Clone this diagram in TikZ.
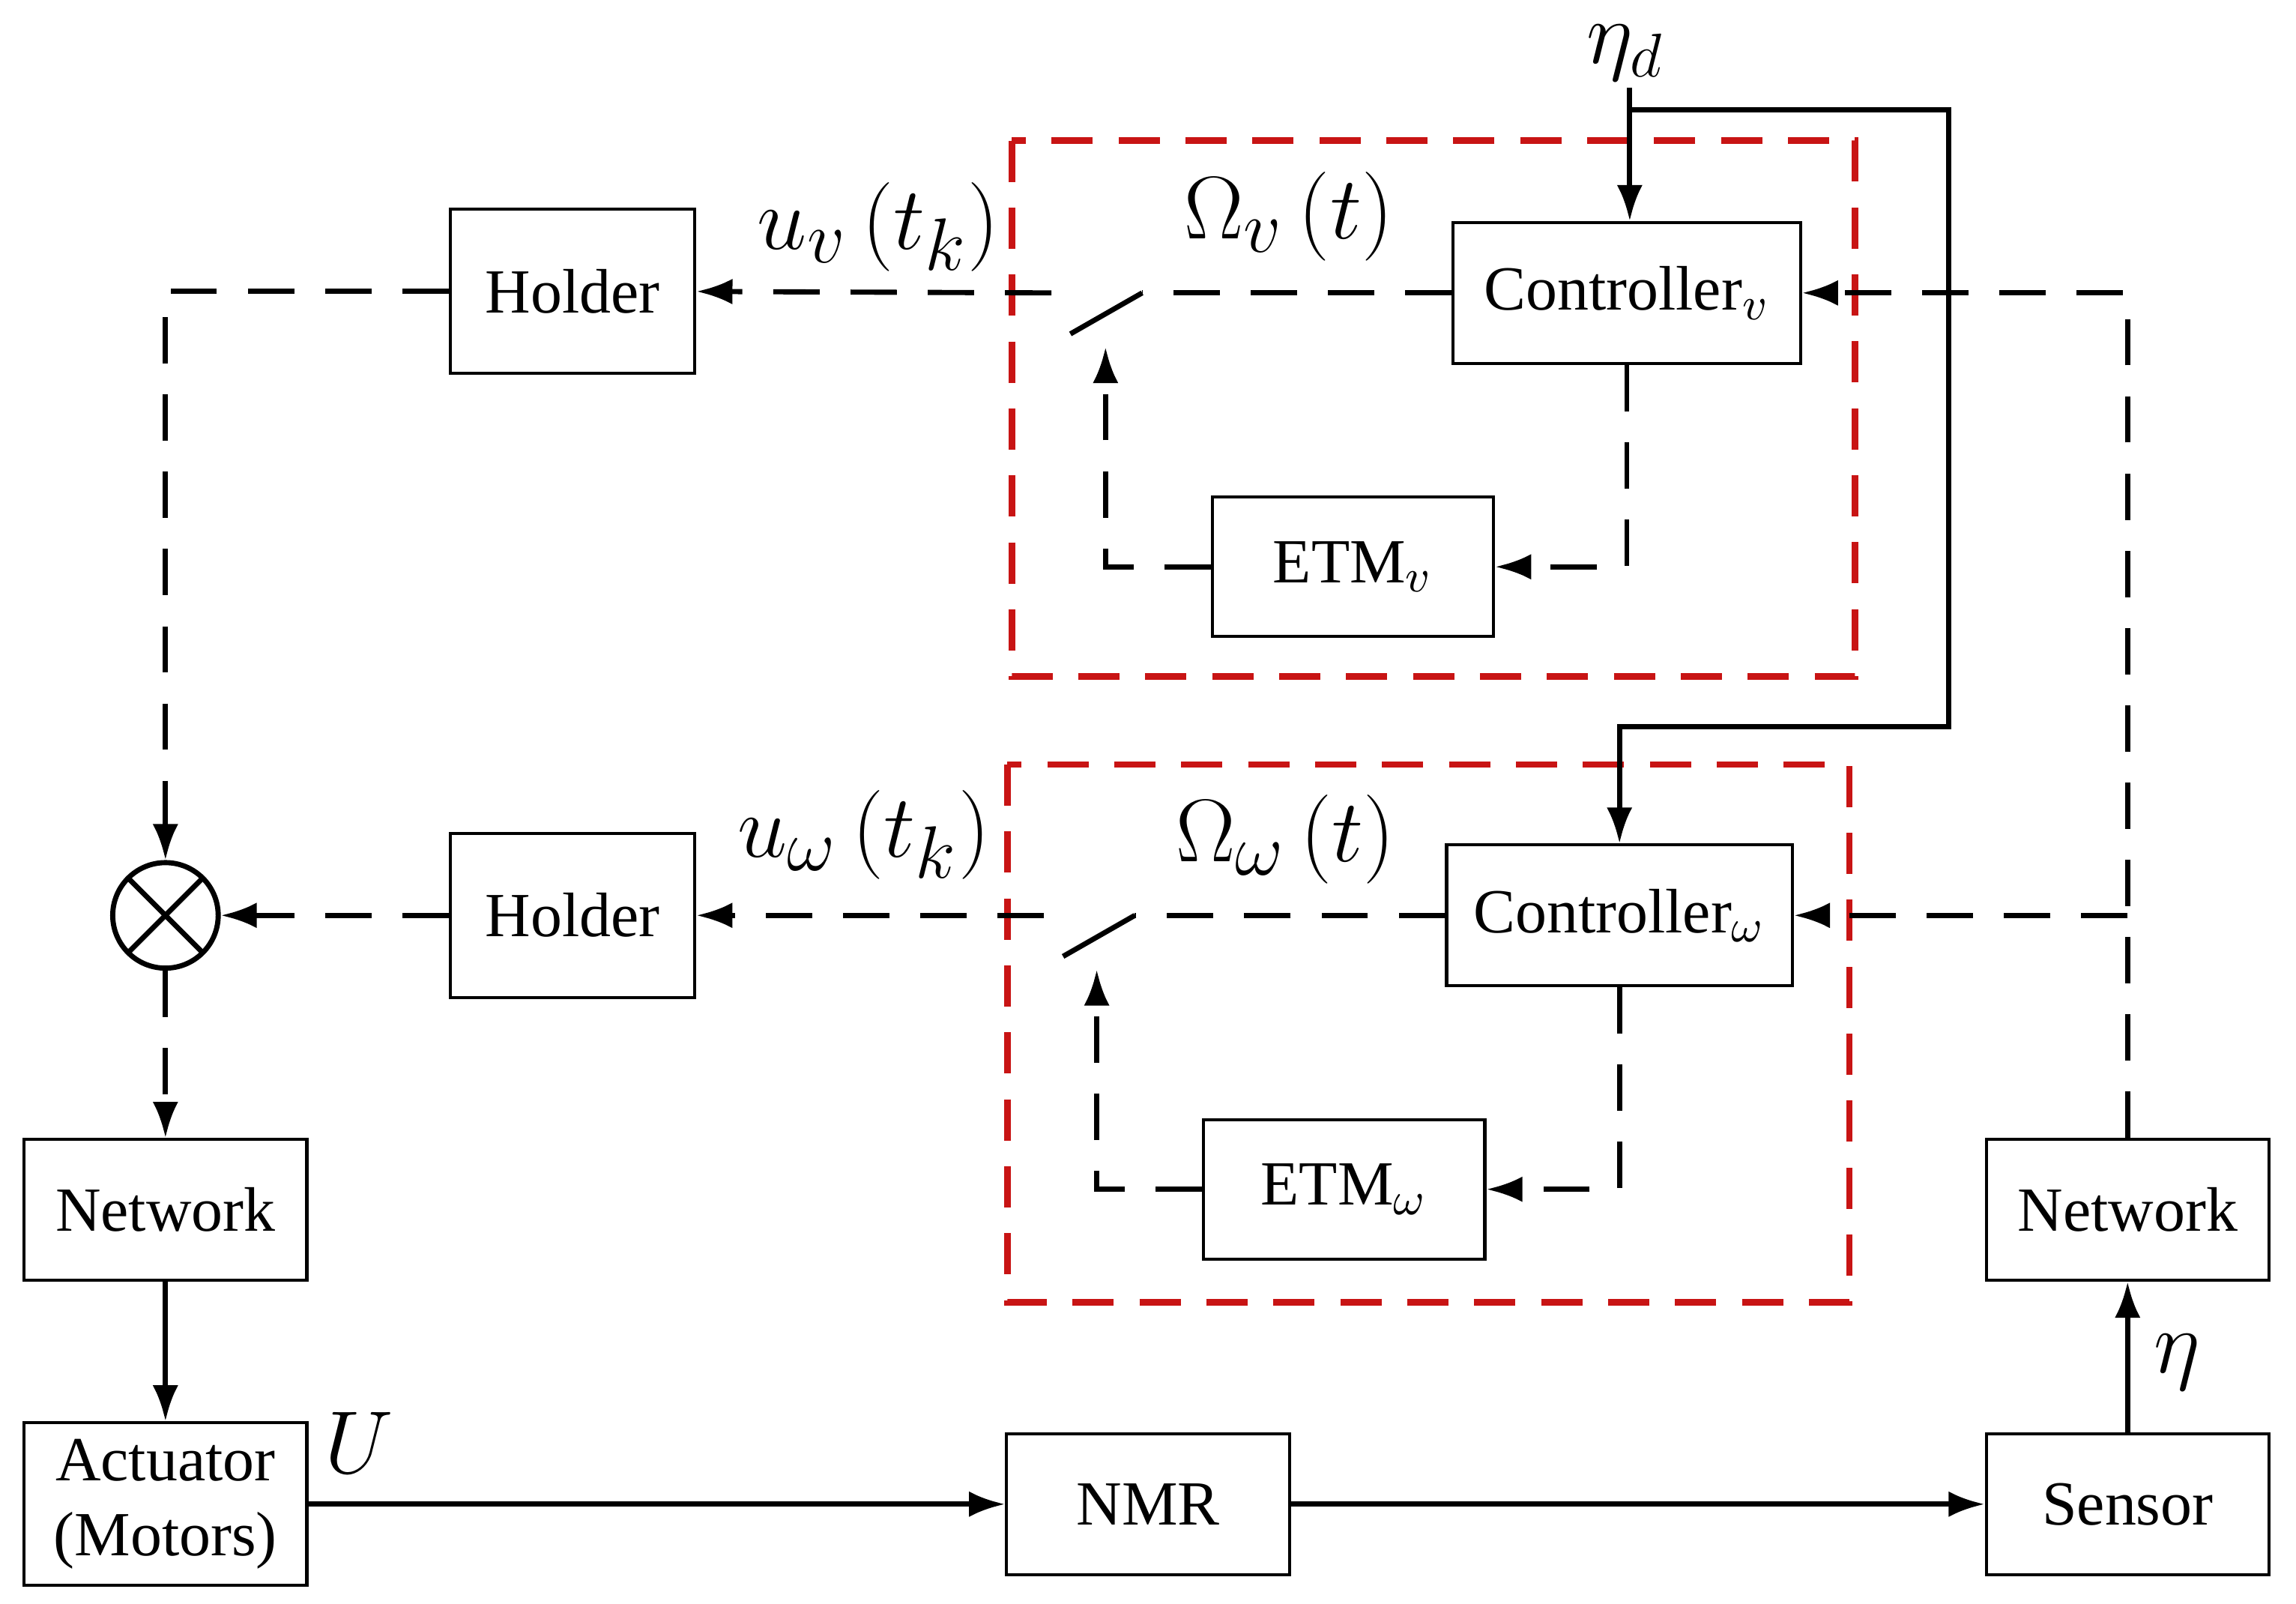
\documentclass[tikz,border=0pt]{standalone}
\usepackage{fontspec}
\setmainfont{Liberation Serif}
\usetikzlibrary{arrows.meta}
\begin{document}
\begin{tikzpicture}[x=0.01cm,y=-0.01cm,
  box/.style={draw,line width=0.6pt,inner sep=0pt,font=\fontsize{12.2}{14.5}\selectfont},
  sol/.style={line width=1pt,-{Latex[length=7pt,width=5pt]}},
  sl/.style={line width=1pt},
  dsh/.style={line width=1pt,dash pattern=on 9pt off 6pt},
  da/.style={dsh,-{Latex[length=7pt,width=5pt]}},
  red/.style={draw={rgb,255:red,200;green,20;blue,20},line width=1.3pt,dash pattern=on 8pt off 5pt},
  big/.style={font=\fontsize{19}{22}\selectfont}]
\useasboundingbox (0,0) rectangle (1568,1095);
% red boxes
\draw[red] (691,96) rectangle (1267,462);
\draw[red] (688,522) rectangle (1263,889);
% nodes
\node[box,minimum width=1.67cm,minimum height=1.12cm] (h1) at (391,199) {Holder};
\node[box,minimum width=1.67cm,minimum height=1.12cm] (h2) at (391,625) {Holder};
\node[box,minimum width=2.37cm,minimum height=0.96cm] (cv) at (1111,200) {Controller$_{v}$};
\node[box,minimum width=1.92cm,minimum height=0.95cm] (ev) at (924,387) {ETM$_{v}$};
\node[box,minimum width=2.36cm,minimum height=0.96cm] (cw) at (1106,625) {Controller$_{\omega}$};
\node[box,minimum width=1.92cm,minimum height=0.95cm] (ew) at (918,812) {ETM$_{\omega}$};
\node[draw,circle,line width=1pt,minimum size=0.72cm,inner sep=0pt,
  path picture={\draw[line width=1pt] (path picture bounding box.north west)--(path picture bounding box.south east) (path picture bounding box.north east)--(path picture bounding box.south west);}] (s) at (113,625) {};
\node[box,minimum width=1.93cm,minimum height=0.96cm] (nl) at (113,826) {Network};
\node[box,minimum width=1.93cm,minimum height=1.11cm,align=center] (ac) at (113,1027) {Actuator\\(Motors)};
\node[box,minimum width=1.93cm,minimum height=0.96cm] (nmr) at (784,1027) {NMR};
\node[box,minimum width=1.93cm,minimum height=0.96cm] (se) at (1453,1027) {Sensor};
\node[box,minimum width=1.93cm,minimum height=0.96cm] (nr) at (1453,826) {Network};
% labels
\node[big,inner sep=0pt,font=\fontsize{17}{20}\selectfont] (ld) at (1110,36) {$\eta_d$};
\node[big] at (600,155) {$u_v\left(t_k\right)$};
\node[big] at (880,148) {$\Omega_v\left(t\right)$};
\node[big] at (590,570) {$u_\omega\left(t_k\right)$};
\node[big] at (878,573) {$\Omega_\omega\left(t\right)$};
\node[big] at (245,985) {$U$};
\node[big] at (1487,930) {$\eta$};
% eta_d lines
\coordinate (d0) at (1113,60);
\coordinate (d1) at (1113,75);
\draw[sol] (d0) -- (cv.north -| d0);
\draw[sol] (d1) -- (1331,75) -- (1331,496) -- (1106,496) -- (cw.north);
% switches
\coordinate (sv) at (780,200); \coordinate (sw) at (775,625);
\draw[sl] (sv) -- (731,228);
\draw[sl] (sw) -- (726,653);
\draw[dsh] (cv.west) -- (sv);
\draw[dsh] (cw.west) -- (sw);
\draw[da] (718,200) -- (h1.east);
\draw[da] (713,625) -- (h2.east);
% ETM loops
\draw[da] (cv.south) -- (1111,387) -- (ev.east);
\draw[da] (ev.west) -- (755,387) -- (755,237);
\draw[da] (cw.south) -- (1106,812) -- (ew.east);
\draw[da] (ew.west) -- (749,812) -- (749,662);
% holder to sum
\draw[da] (h1.west) -- (113,199) -- (s.north);
\draw[da] (h2.west) -- (s.east);
\draw[da] (s.south) -- (nl.north);
% feedback
\draw[da] (nr.north) -- (1453,200) -- (cv.east);
\draw[da] (1453,625) -- (cw.east);
% solid path
\draw[sol] (nl.south) -- (ac.north);
\draw[sol] (ac.east) -- (nmr.west);
\draw[sol] (nmr.east) -- (se.west);
\draw[sol] (se.north) -- (nr.south);
\end{tikzpicture}
\end{document}
